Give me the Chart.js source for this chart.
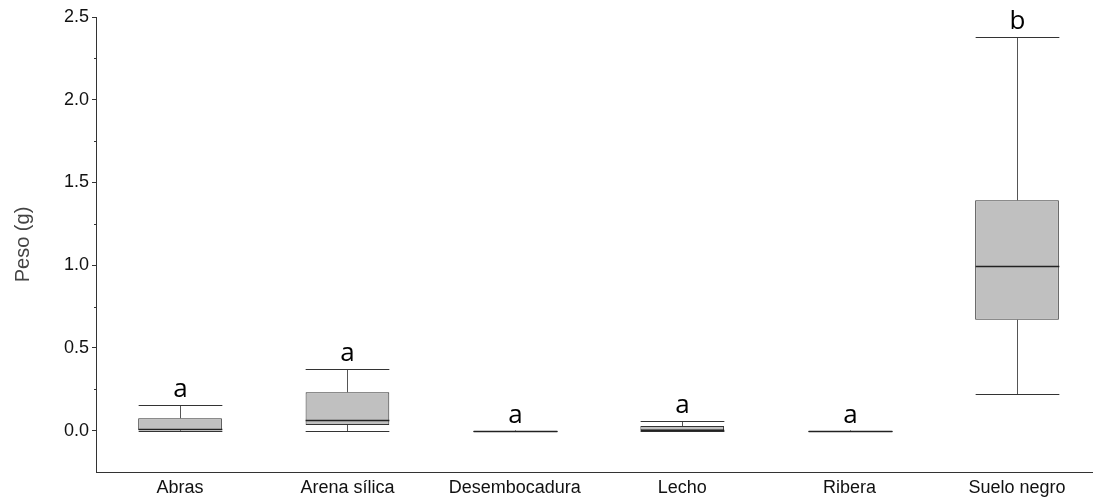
<!DOCTYPE html>
<html>
<head>
<meta charset="utf-8">
<script src="https://cdn.jsdelivr.net/npm/chart.js@4"></script>
<style>
  body { margin: 0; background: #fff; }
  canvas { display: block; }
</style>
</head>
<body>
<canvas id="chart" width="1093" height="502"></canvas>
<script>
const categories = ["Abras", "Arena sílica", "Desembocadura", "Lecho", "Ribera", "Suelo negro"];
const minValues = [0, 0, 0, 0, 0, 0.224];
const q1Values = [0.002, 0.034, 0, 0, 0, 0.670];
const medianValues = [0.012, 0.062, 0, 0.006, 0, 0.993];
const q3Values = [0.075, 0.232, 0, 0.028, 0, 1.392];
const maxValues = [0.155, 0.375, 0, 0.059, 0, 2.381];
const letters = ["a", "a", "a", "a", "a", "b"];

const boxData = categories.map((c, i) => ({ x: i, y: [q1Values[i], q3Values[i]] }));

// whiskers, medians and letters drawn on the chart scales
const boxPlot = {
    id: "boxPlot",
    afterDatasetsDraw(chart) {
        const ctx = chart.ctx;
        const xs = chart.scales.x;
        const ys = chart.scales.y;
        const half = (xs.getPixelForValue(0.25) - xs.getPixelForValue(0));
        ctx.save();
        categories.forEach((c, i) => {
            const cx = Math.round(xs.getPixelForValue(i)) + 0.5;
            const yMin = Math.round(ys.getPixelForValue(minValues[i])) + 0.5;
            const yMax = Math.round(ys.getPixelForValue(maxValues[i])) + 0.5;
            const yQ1 = ys.getPixelForValue(q1Values[i]);
            const yQ3 = ys.getPixelForValue(q3Values[i]);
            const yMed = Math.round(ys.getPixelForValue(medianValues[i])) + 0.5;

            ctx.strokeStyle = "#555";
            ctx.lineWidth = 1;
            ctx.beginPath();
            ctx.moveTo(cx, yMax); ctx.lineTo(cx, yQ3);
            ctx.moveTo(cx, yQ1); ctx.lineTo(cx, yMin);
            ctx.stroke();

            ctx.strokeStyle = "#333";
            ctx.beginPath();
            ctx.moveTo(cx - half, yMax); ctx.lineTo(cx + half, yMax);
            ctx.moveTo(cx - half, yMin); ctx.lineTo(cx + half, yMin);
            ctx.stroke();

            ctx.strokeStyle = "#222";
            ctx.lineWidth = 1.6;
            ctx.beginPath();
            ctx.moveTo(cx - half, yMed); ctx.lineTo(cx + half, yMed);
            ctx.stroke();

            ctx.fillStyle = "#000";
            ctx.font = "26px 'Open Sans'";
            ctx.textAlign = "center";
            ctx.textBaseline = "alphabetic";
            ctx.fillText(letters[i], cx, yMax - 9);
        });

        // minor ticks on y axis
        ctx.strokeStyle = "#333";
        ctx.lineWidth = 1;
        const left = Math.round(chart.chartArea.left);
        ctx.beginPath();
        for (let v = 0.25; v < 2.5; v += 0.5) {
            const y = Math.round(ys.getPixelForValue(v)) + 0.5;
            ctx.moveTo(left - 2, y); ctx.lineTo(left, y);
        }
        ctx.stroke();
        ctx.restore();
    }
};

new Chart(document.getElementById("chart"), {
    type: "bar",
    data: {
        datasets: [{
            data: boxData,
            backgroundColor: "#c0c0c0",
            borderColor: "#333",
            borderWidth: 1,
            borderSkipped: false,
            barPercentage: 0.5,
            categoryPercentage: 1
        }]
    },
    options: {
        responsive: false,
        animation: false,
        devicePixelRatio: 1,
        layout: { padding: { top: 17, right: 0, left: 0, bottom: 0 } },
        plugins: { legend: { display: false }, tooltip: { enabled: false } },
        scales: {
            x: {
                type: "linear",
                offset: false,
                min: -0.502,
                max: 5.454,
                afterBuildTicks: (scale) => { scale.ticks = categories.map((c, i) => ({ value: i })); },
                afterFit: (scale) => { scale.height = 30; },
                grid: { display: false, drawTicks: false },
                border: { display: true, color: "#333", width: 1 },
                ticks: {
                    autoSkip: false,
                    maxRotation: 0,
                    padding: 5,
                    color: "#111",
                    font: { family: "'Liberation Sans', Arial", size: 18 },
                    callback: (v) => categories[v]
                }
            },
            y: {
                min: -0.25,
                max: 2.5,
                afterBuildTicks: (scale) => {
                    scale.ticks = [0, 0.5, 1, 1.5, 2, 2.5].map(v => ({ value: v }));
                },
                afterFit: (scale) => { scale.width = 96; },
                grid: { drawOnChartArea: false, tickLength: 4, tickColor: "#333" },
                border: { display: true, color: "#333", width: 1 },
                ticks: {
                    padding: 3,
                    color: "#111",
                    font: { family: "'Liberation Sans', Arial", size: 18 },
                    callback: (v) => Number(v).toFixed(1)
                },
                title: {
                    display: true,
                    text: "Peso (g)",
                    color: "#444",
                    font: { family: "'Liberation Sans', Arial", size: 20 },
                    padding: { top: 11, bottom: 0 }
                }
            }
        }
    },
    plugins: [boxPlot]
});
</script>
</body>
</html>
